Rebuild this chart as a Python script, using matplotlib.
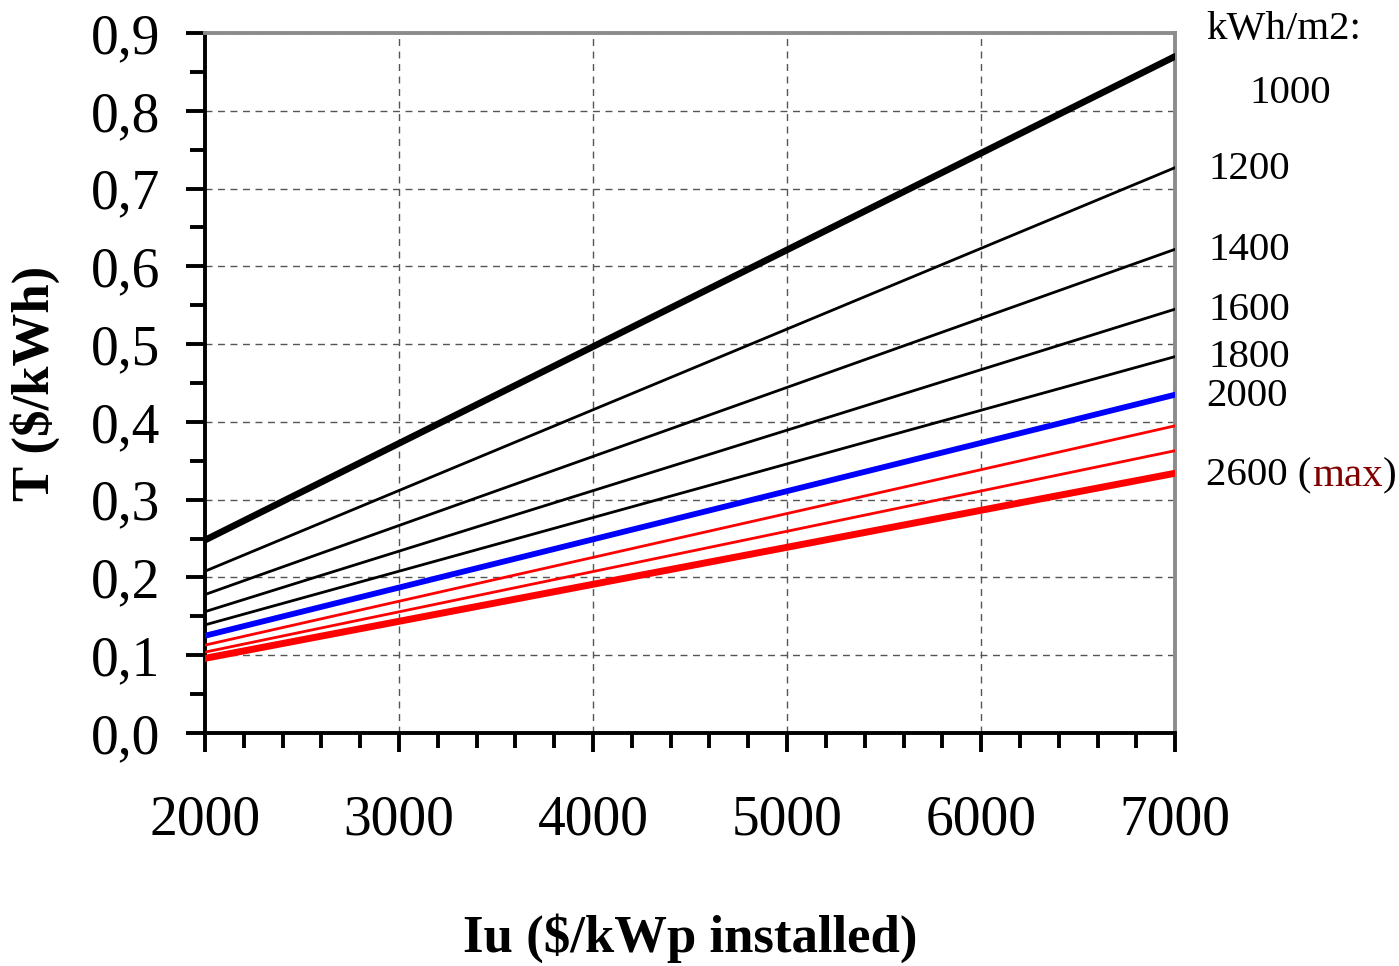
import matplotlib.pyplot as plt
from matplotlib.ticker import MultipleLocator, FuncFormatter

plt.rcParams['font.family'] = ['Liberation Serif', 'DejaVu Serif']

# investment cost range ($/kWp installed)
iu = [2000, 7000]

# irradiation classes (kWh/m2) and tariff at both ends of the range
irr = [1000, 1200, 1400, 1600, 1800, 2000, 2200, 2400, 2600]
t_start = [0.248, 0.208, 0.178, 0.156, 0.139, 0.125, 0.113, 0.104, 0.096]
t_end = [0.870, 0.727, 0.622, 0.545, 0.484, 0.435, 0.395, 0.363, 0.334]
colors = ['black', 'black', 'black', 'black', 'black', 'blue', 'red', 'red', 'red']
widths = [4.8, 2.0, 2.0, 2.0, 2.0, 4.2, 2.0, 2.0, 5.0]

# right side labels
lab_text = ['1000', '1200', '1400', '1600', '1800', '2000']
lab_y = [0.822, 0.725, 0.620, 0.543, 0.483, 0.433]
lab_x = [7380, 7170, 7170, 7170, 7170, 7160]

fig = plt.figure(figsize=(13.99, 9.66), dpi=100)
ax = fig.add_axes([0.1465, 0.2412, 0.6935, 0.7246])

for i in range(len(irr)):
    ax.plot(iu, [t_start[i], t_end[i]], color=colors[i], lw=widths[i],
            solid_capstyle='round', zorder=3)

ax.set_xlim(2000, 7000)
ax.set_ylim(0, 0.9)
ax.xaxis.set_major_locator(MultipleLocator(1000))
ax.xaxis.set_minor_locator(MultipleLocator(200))
ax.yaxis.set_major_locator(MultipleLocator(0.1))
ax.yaxis.set_minor_locator(MultipleLocator(0.05))
ax.yaxis.set_major_formatter(FuncFormatter(lambda v, p: f"{v:.1f}".replace('.', ',')))

ax.grid(True, which='major', color='#555555', ls=(0, (5, 4)), lw=1.0)
ax.tick_params(which='major', length=14, width=2.8, labelsize=40, direction='out')
ax.tick_params(which='minor', length=11, width=2.8, direction='out')
ax.tick_params(axis='x', which='major', pad=30)
ax.tick_params(axis='y', which='major', pad=18)

for s in ['left', 'bottom']:
    ax.spines[s].set_linewidth(2.8)
    ax.spines[s].set_color('black')
for s in ['top', 'right']:
    ax.spines[s].set_linewidth(2.8)
    ax.spines[s].set_color('#8c8c8c')

ax.set_xlabel('Iu ($/kWp installed)', fontsize=38, fontweight='bold', labelpad=48)
ax.set_ylabel('T ($/kWh)', fontsize=38, fontweight='bold', labelpad=22)

fs = 29.5
ax.text(7160, 0.905, 'kWh/m2:', fontsize=fs, ha='left', va='center', clip_on=False)
for txt, x, y in zip(lab_text, lab_x, lab_y):
    ax.text(x, y, txt, fontsize=fs, ha='left', va='center', clip_on=False)
t1 = ax.text(7160, 0.330, '2600 (', fontsize=fs, ha='left', va='center', clip_on=False)
t2 = ax.annotate('max', xy=(1, 0), xycoords=t1, fontsize=fs, color='#800000',
                 ha='left', va='bottom', annotation_clip=False)
ax.annotate(')', xy=(1, 0), xycoords=t2, fontsize=fs, ha='left', va='bottom',
            annotation_clip=False)

fig.savefig('out.png', dpi=100)
